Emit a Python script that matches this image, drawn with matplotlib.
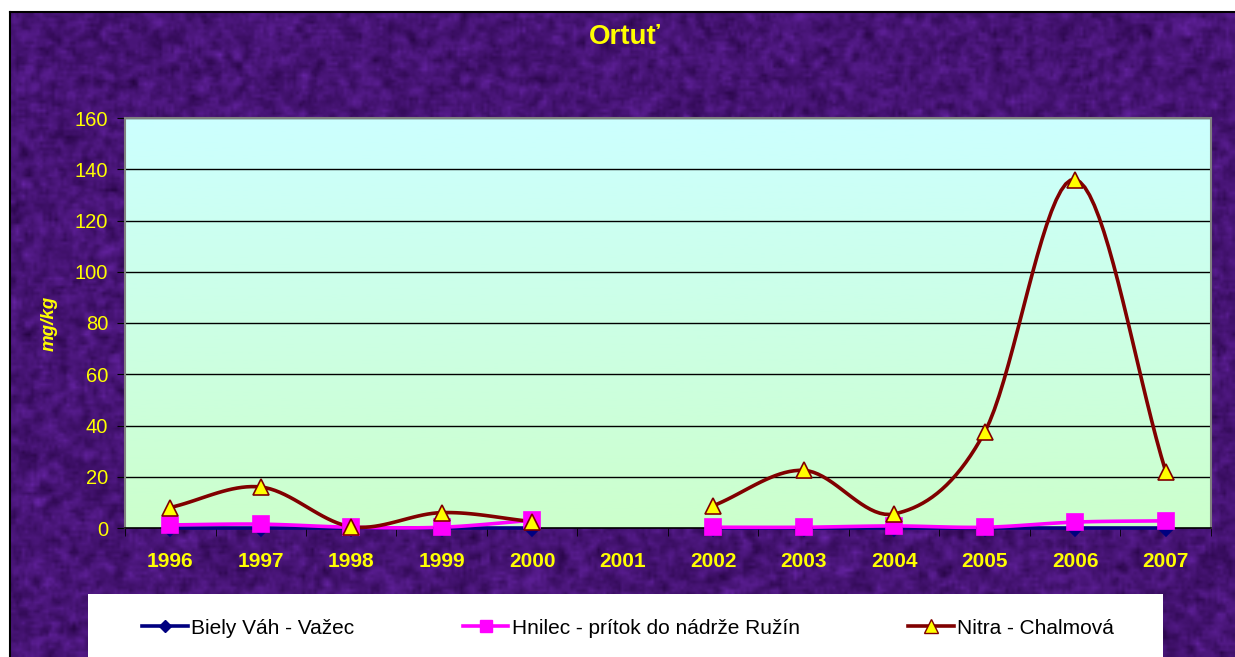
import numpy as np
import matplotlib
matplotlib.use("Agg")
import matplotlib.pyplot as plt
from matplotlib.patches import Rectangle

plt.rcParams['font.family'] = ['Liberation Sans', 'DejaVu Sans']

# data (mg/kg), 2001 has no measurement
years = ['1996', '1997', '1998', '1999', '2000', '2001',
         '2002', '2003', '2004', '2005', '2006', '2007']
biely_vah = [0.1, 0.1, 0.1, 0.1, 0.1, np.nan, 0.1, 0.1, 0.1, 0.1, 0.1, 0.1]
hnilec = [1.2, 1.5, 0.3, 0.3, 3.0, np.nan, 0.3, 0.3, 0.8, 0.3, 2.3, 2.8]
nitra = [8.0, 16.0, 0.5, 6.0, 2.5, np.nan, 8.7, 22.5, 5.5, 37.5, 136.0, 22.0]
series_names = ['Biely Váh - Važec', 'Hnilec - prítok do nádrže Ružín', 'Nitra - Chalmová']

W, H = 1235, 657
YELLOW = '#FFFF00'


def smooth(x, y, n=20):
    # Catmull-Rom spline through the points, like Excel's smoothed line
    x = np.asarray(x, float)
    y = np.asarray(y, float)
    px = np.concatenate([[2 * x[0] - x[1]], x, [2 * x[-1] - x[-2]]])
    py = np.concatenate([[2 * y[0] - y[1]], y, [2 * y[-1] - y[-2]]])
    xs, ys = [], []
    t = np.linspace(0, 1, n)
    for i in range(1, len(px) - 2):
        for p, out in ((px, xs), (py, ys)):
            p0, p1, p2, p3 = p[i - 1], p[i], p[i + 1], p[i + 2]
            out.extend(0.5 * (2 * p1 + (-p0 + p2) * t
                              + (2 * p0 - 5 * p1 + 4 * p2 - p3) * t ** 2
                              + (-p0 + 3 * p1 - 3 * p2 + p3) * t ** 3))
    return np.array(xs), np.array(ys)


def segments(vals):
    vals = np.asarray(vals, float)
    idx = np.arange(len(vals))
    ok = ~np.isnan(vals)
    segs, cur = [], []
    for i in idx:
        if ok[i]:
            cur.append(i)
        elif cur:
            segs.append(cur)
            cur = []
    if cur:
        segs.append(cur)
    return [(idx[s], vals[s]) for s in segs]


fig = plt.figure(figsize=(W / 100, H / 100), dpi=100, facecolor='white')

# textured purple background
bg = fig.add_axes([10 / W, 0, (W - 10) / W, (H - 12) / H])
rng = np.random.default_rng(3)
noise = rng.normal(0, 1, (H // 3, W // 3))
k = np.ones(3) / 3
noise = np.apply_along_axis(lambda r: np.convolve(r, k, mode='same'), 1, noise)
noise = np.apply_along_axis(lambda r: np.convolve(r, k, mode='same'), 0, noise)
noise = noise / noise.std()
fine = rng.normal(0, 1, noise.shape) * 0.25
base = np.array([70, 20, 116]) / 255.0
tint = np.array([8, 4, 12]) / 255.0
img = base[None, None, :] + (noise + fine)[:, :, None] * tint[None, None, :]
bg.imshow(np.clip(img, 0, 1), aspect='auto', interpolation='bilinear', extent=[0, 1, 0, 1])
bg.set_xticks([])
bg.set_yticks([])
for s in ['right', 'bottom']:
    bg.spines[s].set_visible(False)
for s in ['left', 'top']:
    bg.spines[s].set_linewidth(1.5)
    bg.spines[s].set_color('black')

# plot area
ax = fig.add_axes([125 / W, (H - 528) / H, 1086 / W, 410 / H])
ax.set_xlim(-0.5, len(years) - 0.5)
ax.set_ylim(0, 160)
grad = np.linspace(0, 1, 256)[:, None]
c_top = np.array([0xCC, 0xFF, 0xFF]) / 255.0
c_bot = np.array([0xCC, 0xFF, 0xCC]) / 255.0
gimg = c_bot[None, None, :] * (1 - grad[:, :, None]) + c_top[None, None, :] * grad[:, :, None]
ax.imshow(gimg, aspect='auto', extent=[-0.5, len(years) - 0.5, 0, 160], origin='lower', zorder=0)

for yv in range(20, 161, 20):
    ax.axhline(yv, color='black', lw=1.0, zorder=1)

styles = [
    dict(color='#000080', marker='D', ms=8, mfc='#000080', mec='#000080'),
    dict(color='#FF00FF', marker='s', ms=11, mfc='#FF00FF', mec='#FF00FF'),
    dict(color='#800000', marker='^', ms=12, mfc='#FFFF00', mec='#800000'),
]
handles = []
for vals, st, name in zip([biely_vah, hnilec, nitra], styles, series_names):
    for xi, yi in segments(vals):
        sx, sy = smooth(xi, yi)
        ax.plot(sx, sy, color=st['color'], lw=2.6, zorder=3, clip_on=False)
        ax.plot(xi, yi, ls='none', marker=st['marker'], ms=st['ms'], mfc=st['mfc'],
                mec=st['mec'], mew=1.2, zorder=4, clip_on=False)
    h, = ax.plot([], [], color=st['color'], lw=2.6, marker=st['marker'], ms=st['ms'] * 0.8,
                 mfc=st['mfc'], mec=st['mec'], mew=1.0)
    handles.append(h)

ax.set_yticks(range(0, 161, 20))
ax.set_yticklabels([str(v) for v in range(0, 161, 20)], color=YELLOW, fontsize=14.5)
ax.set_xticks(range(len(years)))
ax.set_xticklabels(years, color=YELLOW, fontsize=15, fontweight='bold')
ax.set_xticks(np.arange(-0.5, len(years)), minor=True)
ax.tick_params(axis='x', which='major', length=0, pad=17)
ax.tick_params(axis='x', which='minor', length=6, color='black', direction='out')
ax.tick_params(axis='y', length=6, color='black', direction='out', pad=6)
for s in ['left', 'top', 'right']:
    ax.spines[s].set_color('#808080')
    ax.spines[s].set_linewidth(1.5)
ax.spines['bottom'].set_color('black')
ax.spines['bottom'].set_linewidth(1.2)
ax.set_ylabel('mg/kg', color=YELLOW, fontsize=13.5, fontweight='bold', style='italic', labelpad=12)

fig.text(625 / W, 1 - 37 / H, 'Ortuť', color=YELLOW, fontsize=20, fontweight='bold',
         ha='center', va='center')

# legend box
fig.patches.append(Rectangle((88 / W, 0), (1163 - 88) / W, (H - 594) / H,
                             transform=fig.transFigure, facecolor='white', edgecolor='none', zorder=2))
fig.legend(handles, series_names, loc='center', ncol=3, mode='expand', frameon=False,
           bbox_to_anchor=(134 / W, 1 - 638 / H, (1122 - 134) / W, 20 / H),
           fontsize=15, handlelength=2.2, handletextpad=0.15, borderaxespad=0)

fig.savefig('out.png', dpi=100)
